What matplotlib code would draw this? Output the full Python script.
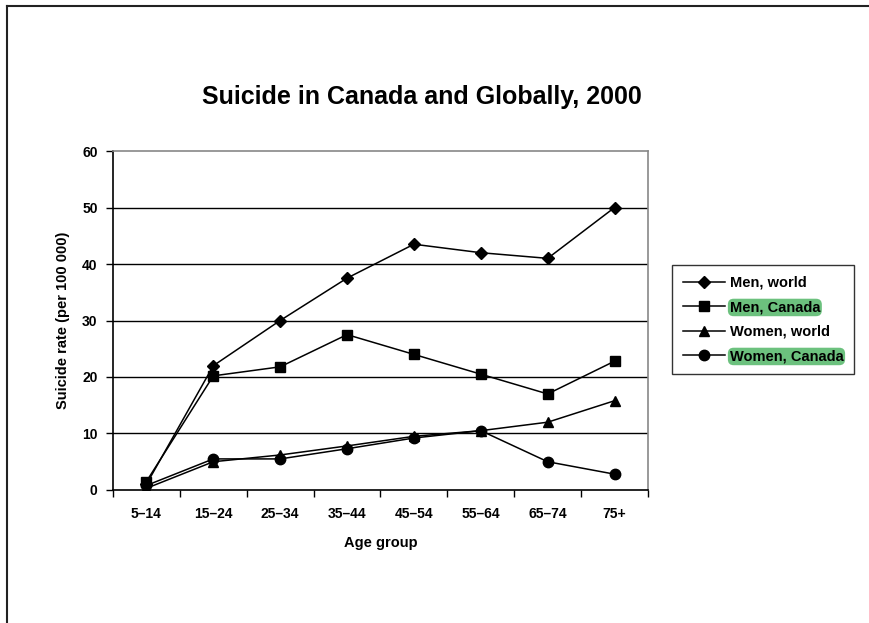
import numpy as np
import matplotlib.pyplot as plt
from matplotlib.lines import Line2D

plt.rcParams['font.family'] = ['Liberation Sans', 'DejaVu Sans']

age_groups = ['5–14', '15–24', '25–34', '35–44', '45–54', '55–64', '65–74', '75+']
men_world = [1.0, 22.0, 30.0, 37.5, 43.5, 42.0, 41.0, 50.0]
men_canada = [1.5, 20.2, 21.8, 27.5, 24.0, 20.5, 17.0, 22.8]
women_world = [0.3, 5.0, 6.2, 7.8, 9.5, 10.5, 12.0, 15.8]
women_canada = [0.8, 5.5, 5.5, 7.3, 9.2, 10.5, 5.0, 2.8]
highlight = '#6cc17e'

fig = plt.figure(figsize=(8.69, 6.23), dpi=100)
ax = fig.add_axes([0.130, 0.2135, 0.6157, 0.5441])

x = np.arange(len(age_groups))
series = [
    ('Men, world', men_world, 'D', 6),
    ('Men, Canada', men_canada, 's', 7.5),
    ('Women, world', women_world, '^', 7.5),
    ('Women, Canada', women_canada, 'o', 7.5),
]
for label, vals, mk, ms in series:
    ax.plot(x, vals, color='black', lw=1.1, marker=mk, markersize=ms,
            markerfacecolor='black', markeredgecolor='black', label=label)

ax.set_xlim(-0.5, 7.5)
ax.set_ylim(0, 60)
ax.set_yticks(range(0, 61, 10))
ax.set_yticklabels([str(v) for v in range(0, 61, 10)], fontweight='bold', fontsize=10)
ax.set_xticks(x)
ax.set_xticklabels(age_groups, fontweight='bold', fontsize=10)
ax.tick_params(axis='x', length=0, pad=12)
ax.set_xticks(np.arange(-0.5, 8.0, 1.0), minor=True)
ax.tick_params(axis='x', which='minor', length=5, direction='out', width=1)
ax.tick_params(axis='y', length=5, direction='out', width=1, pad=6)

for v in range(10, 60, 10):
    ax.axhline(v, color='black', lw=1, zorder=0)

ax.spines['left'].set_color('black')
ax.spines['bottom'].set_color('black')
ax.spines['top'].set_color('#888888')
ax.spines['right'].set_color('#888888')
for s in ax.spines.values():
    s.set_linewidth(1.2)

ax.set_xlabel('Age group', fontweight='bold', fontsize=10.5, labelpad=11)
ax.set_ylabel('Suicide rate (per 100 000)', fontweight='bold', fontsize=10.5, labelpad=9)

fig.text(0.486, 0.844, 'Suicide in Canada and Globally, 2000', ha='center', va='center',
         fontsize=18, fontweight='bold')

leg = fig.legend(loc='upper left', bbox_to_anchor=(0.7733, 0.5746), frameon=True,
                 fancybox=False, edgecolor='black', borderaxespad=0,
                 prop={'weight': 'bold', 'size': 10.5}, handlelength=2.9,
                 handletextpad=0.3, labelspacing=0.72, borderpad=0.75)
leg.get_frame().set_linewidth(1.0)
for i, t in enumerate(leg.get_texts()):
    if i in (1, 3):
        t.set_bbox(dict(boxstyle='round,pad=0.12,rounding_size=0.4', fc=highlight, ec='none'))

# outer frame (left and top edges)
fig.add_artist(Line2D([0.0075, 0.0075], [0.0, 0.990], transform=fig.transFigure, color='#222222', lw=1.5))
fig.add_artist(Line2D([0.0075, 1.0], [0.990, 0.990], transform=fig.transFigure, color='#222222', lw=1.5))

fig.savefig('out.png', dpi=100)
